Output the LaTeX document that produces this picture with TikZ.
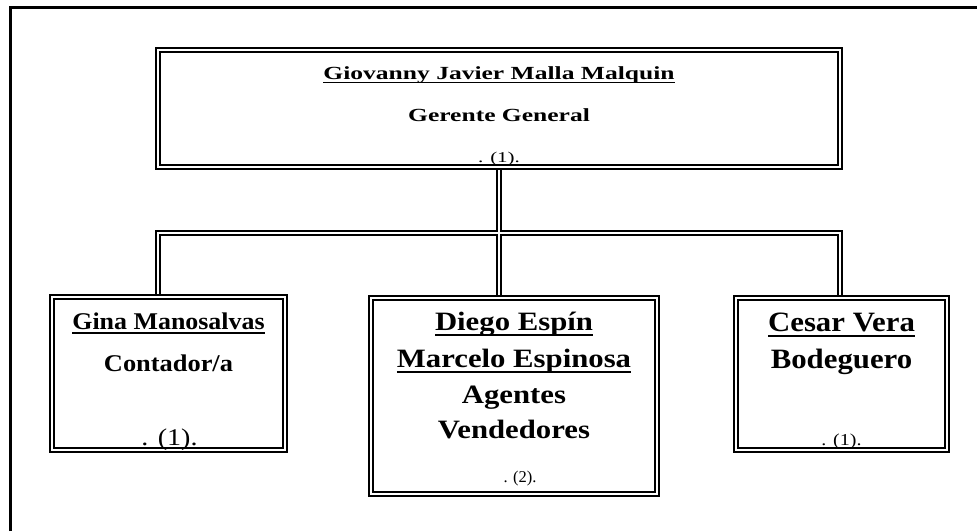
\documentclass[tikz,border=0pt]{standalone}
\usepackage{fontspec}
\setmainfont{Liberation Serif}
\usetikzlibrary{backgrounds}
\newsavebox\ulbox
\newcommand{\ulname}[1]{\sbox\ulbox{#1}\rlap{\rule[-0.22em]{\wd\ulbox}{0.075em}}\usebox\ulbox}

\begin{document}
\begin{tikzpicture}[x=1pt,y=-1pt,
  orgbox/.style={draw,double,line width=1.8pt,double distance=1.8pt,outer sep=0pt,inner sep=0pt},
  link/.style={double,line width=1.7pt,double distance=2.3pt},
  tag/.style={anchor=base,inner sep=0pt}]

\useasboundingbox (0,0) rectangle (977,531);

% marco
\draw[line width=3pt] (10.5,531) -- (10.5,7.5) -- (977,7.5);

% cajas
\node[orgbox,minimum width=682pt,minimum height=117pt] (gerente) at (499,108.5) {};
\node[orgbox,minimum width=233pt,minimum height=153pt] (contador) at (168.5,373.5) {};
\node[orgbox,minimum width=286pt,minimum height=196pt] (vendedores) at (514,396) {};
\node[orgbox,minimum width=211pt,minimum height=152pt] (bodega) at (841.5,374) {};

% textos
\node[tag,xscale=1.38,font=\bfseries\fontsize{18.5}{20}\selectfont] (gnombre) at (499,79) {\ulname{Giovanny Javier Malla Malquin}};
\node[tag,xscale=1.38,font=\bfseries\fontsize{18.5}{20}\selectfont] (gcargo) at (499,121) {Gerente General};
\node[tag,xscale=1.4,font=\fontsize{15}{16}\selectfont] (gnum) at (499,162) {. (1).};

\node[tag,xscale=1.08,font=\bfseries\fontsize{24}{26}\selectfont] (cnombre) at (168.5,329) {\ulname{Gina Manosalvas}};
\node[tag,xscale=1.1,font=\bfseries\fontsize{24}{26}\selectfont] (ccargo) at (168.5,371) {Contador/a};
\node[tag,xscale=1.17,font=\fontsize{24}{26}\selectfont] (cnum) at (169.5,445) {. (1).};

\node[tag,xscale=1.16,font=\bfseries\fontsize{26.5}{28}\selectfont] (vnombre1) at (514,330) {\ulname{Diego Espín}};
\node[tag,xscale=1.16,font=\bfseries\fontsize{26.5}{28}\selectfont] (vnombre2) at (514,367) {\ulname{Marcelo Espinosa}};
\node[tag,xscale=1.16,font=\bfseries\fontsize{26.5}{28}\selectfont] (vcargo1) at (514,403) {Agentes};
\node[tag,xscale=1.16,font=\bfseries\fontsize{26.5}{28}\selectfont] (vcargo2) at (514,438) {Vendedores};
\node[tag,font=\fontsize{16.5}{18}\selectfont] (vnum) at (520,482) {. (2).};

\node[tag,xscale=1.1,font=\bfseries\fontsize{28}{30}\selectfont] (bnombre) at (841.5,331) {\ulname{Cesar Vera}};
\node[tag,xscale=1.1,font=\bfseries\fontsize{28}{30}\selectfont] (bcargo) at (841.5,368) {Bodeguero};
\node[tag,xscale=1.2,font=\fontsize{16.7}{18}\selectfont] (bnum) at (841.5,445) {. (1).};

% conectores
\coordinate (bus) at (499,233);
\begin{scope}[on background layer]
\draw[link] (gerente.south west |- contador.north) |- (bus) -| (gerente.south east |- bodega.north)
  (gerente.south) -- (gerente.south |- vendedores.north);
\end{scope}

\end{tikzpicture}
\end{document}
